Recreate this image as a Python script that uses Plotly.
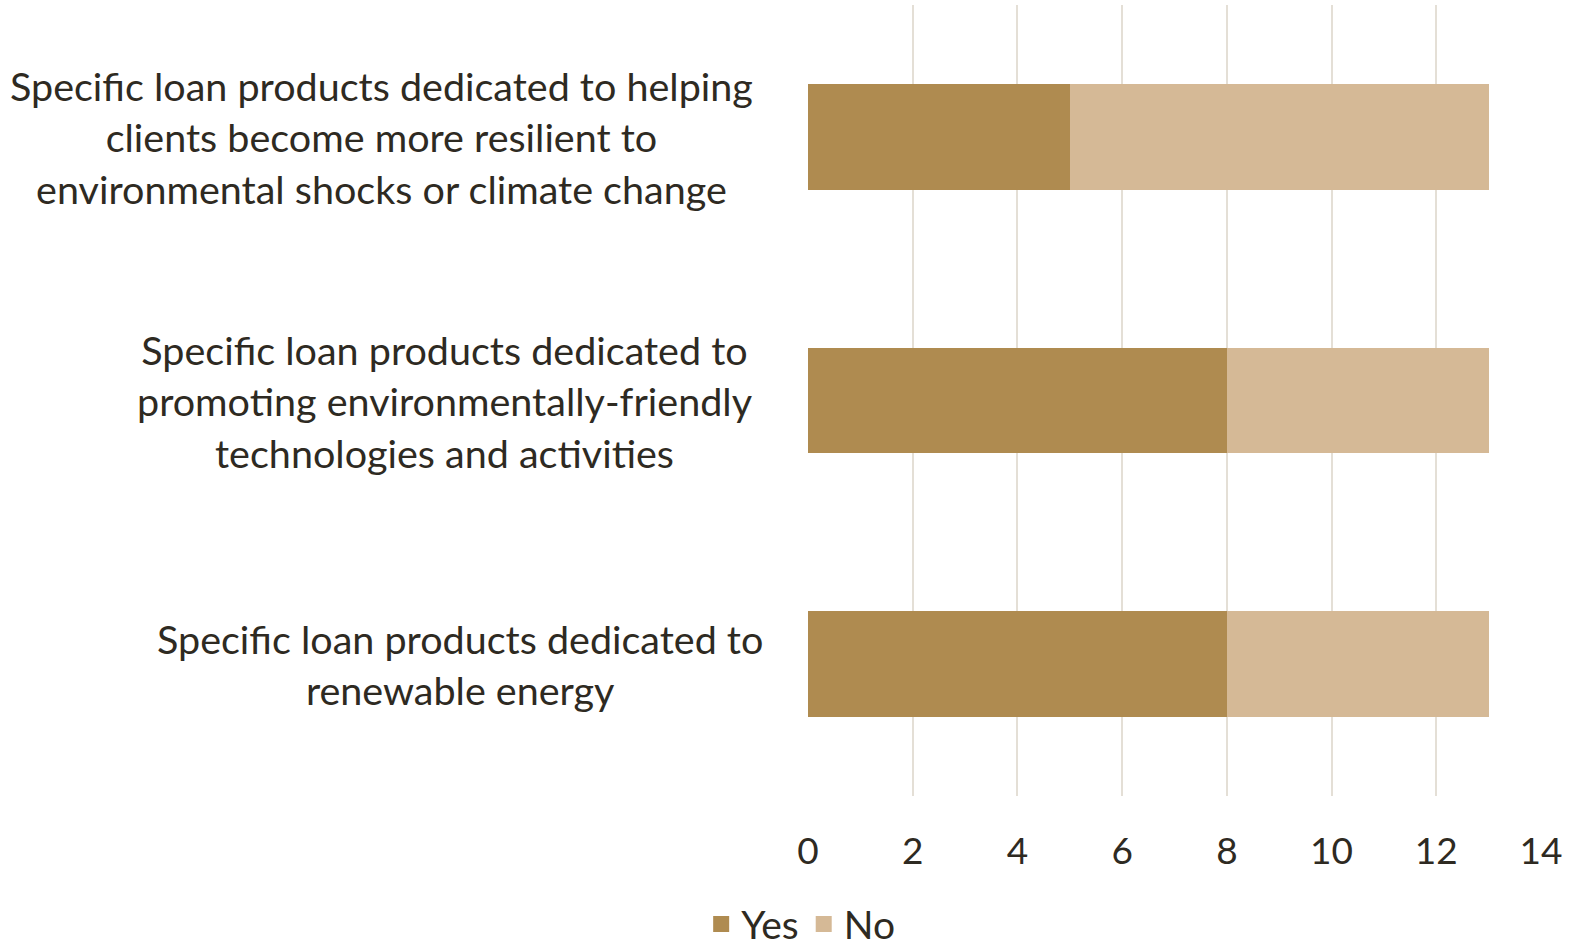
import plotly.graph_objects as go

categories = [
    "Specific loan products dedicated to helping<br>clients become more resilient to<br>environmental shocks or climate change",
    "Specific loan products dedicated to<br>promoting environmentally-friendly<br>technologies and activities",
    "Specific loan products dedicated to<br>renewable energy",
]
yes_vals = [5, 8, 8]
no_vals = [8, 5, 5]
x_ticks = [0, 2, 4, 6, 8, 10, 12, 14]

label_shift = [-53, -53, -43]  # style: pixel offset of each label block

FONT = "Lato"
TXT = "#2e2a22"
YES_C = "#AF8B50"
NO_C = "#D5B996"

fig = go.Figure()
fig.add_trace(go.Bar(y=list(range(len(categories))), x=yes_vals, orientation="h",
                     name="Yes", marker=dict(color=YES_C, line=dict(width=0)), width=0.4,
                     showlegend=False))
fig.add_trace(go.Bar(y=list(range(len(categories))), x=no_vals, orientation="h",
                     name="No", marker=dict(color=NO_C, line=dict(width=0)), width=0.4,
                     showlegend=False))
# legend entries with larger square symbols
for nm, col in (("Yes", YES_C), ("No", NO_C)):
    fig.add_trace(go.Scatter(x=[None], y=[None], mode="markers", name=nm,
                             marker=dict(symbol="square", size=26, color=col), showlegend=True))

for i, c in enumerate(categories):
    fig.add_annotation(x=0, xref="paper", y=i, yref="y", text=c, showarrow=False,
                       xanchor="right", yanchor="middle", align="center",
                       xshift=label_shift[i], font=dict(family=FONT, size=39.5, color=TXT))

fig.update_layout(
    barmode="stack",
    width=1571, height=947,
    margin=dict(l=808, r=30, t=5, b=151, autoexpand=False),
    paper_bgcolor="white", plot_bgcolor="white",
    font=dict(family=FONT, color=TXT, size=36),
    showlegend=True,
    legend=dict(orientation="h", x=-0.01, xanchor="center", y=-0.162, yanchor="middle",
                font=dict(family=FONT, size=39, color=TXT), traceorder="normal",
                itemsizing="trace", bgcolor="rgba(0,0,0,0)"),
    xaxis=dict(range=[0, 14], tickvals=x_ticks, showgrid=True, gridcolor="#E4DFD6", gridwidth=2,
               zeroline=False, showline=False, ticklabelstandoff=30, automargin=False,
               tickfont=dict(family=FONT, size=37, color=TXT)),
    yaxis=dict(range=[2.5, -0.5], showticklabels=False, showgrid=False, zeroline=False,
               automargin=False),
)
fig.write_html("out.html")
